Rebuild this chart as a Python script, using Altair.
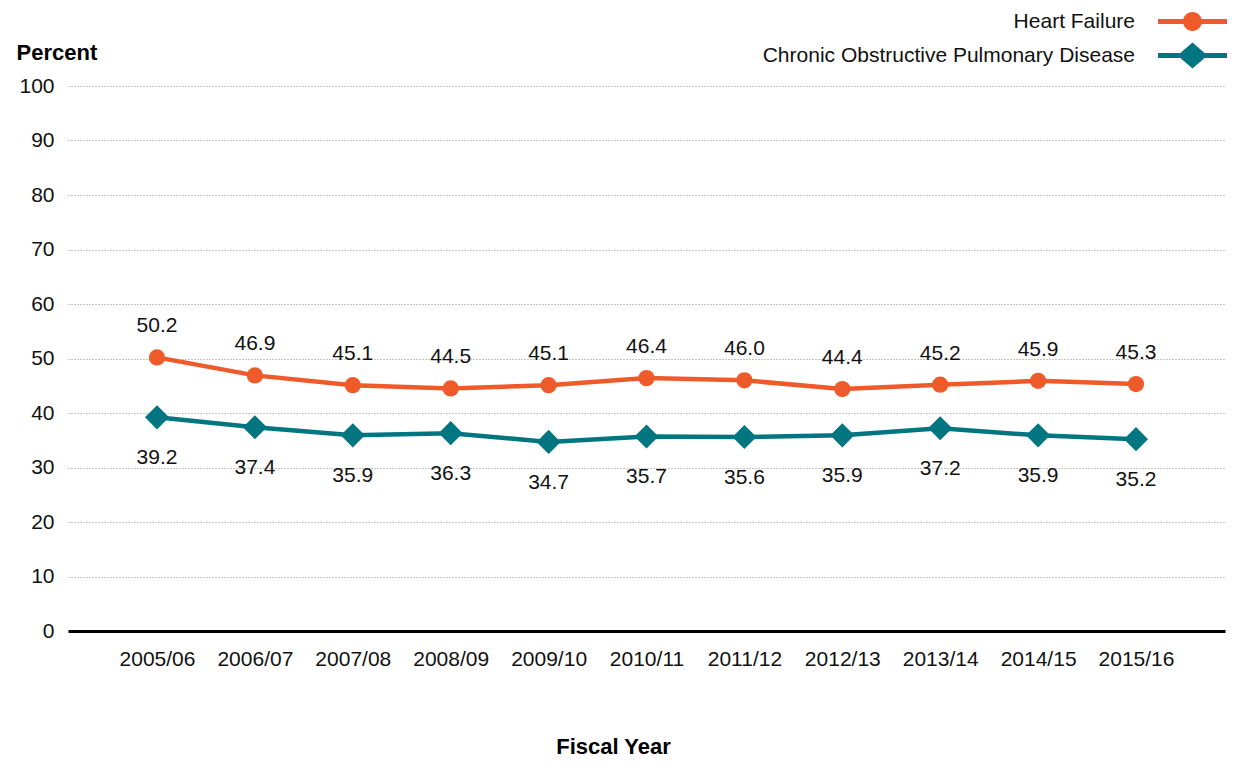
import altair as alt
import pandas as pd

years = ["2005/06", "2006/07", "2007/08", "2008/09", "2009/10", "2010/11",
         "2011/12", "2012/13", "2013/14", "2014/15", "2015/16"]
heart_failure = [50.2, 46.9, 45.1, 44.5, 45.1, 46.4, 46.0, 44.4, 45.2, 45.9, 45.3]
copd = [39.2, 37.4, 35.9, 36.3, 34.7, 35.7, 35.6, 35.9, 37.2, 35.9, 35.2]
y_ticks = [0, 10, 20, 30, 40, 50, 60, 70, 80, 90, 100]

HF = "Heart Failure"
CO = "Chronic Obstructive Pulmonary Disease"
ORANGE = "#EF5A2B"
TEAL = "#017681"
FONT = "Liberation Sans"

df_hf = pd.DataFrame({"year": years, "value": heart_failure, "series": HF})
df_co = pd.DataFrame({"year": years, "value": copd, "series": CO})

x_enc = alt.X(
    "year:N", sort=years,
    scale=alt.Scale(type="point", padding=0.909, align=0.5),
    axis=alt.Axis(
        title="Fiscal Year", titleFont=FONT, titleFontSize=22, titleFontWeight="bold",
        titleColor="#000", titleX=545, titleY=115, titleAlign="center",
        titleBaseline="middle", titleAnchor="start",
        labelFont=FONT, labelFontSize=21, labelColor="#111", labelAngle=0,
        labelPadding=17, ticks=False, domain=True, domainColor="#000",
        domainWidth=3, grid=False,
    ),
)
y_enc = alt.Y(
    "value:Q",
    scale=alt.Scale(domain=[0, 100], nice=False, zero=True),
    axis=alt.Axis(
        values=y_ticks, title="Percent", titleFont=FONT, titleFontSize=22,
        titleFontWeight="bold", titleColor="#000", titleAngle=0, titleAlign="left",
        titleBaseline="middle", titleX=-52, titleY=-34, titleAnchor="start",
        labelFont=FONT, labelFontSize=21, labelColor="#111", labelPadding=14,
        ticks=False, domain=False, grid=True, gridColor="#8a8a8a",
        gridDash=[1, 2], gridWidth=1,
    ),
)

PATH_HF = ("M-1,-0.072H1V0.072H-1Z"
           "M0.275,0A0.275,0.275,0,1,1,-0.275,0A0.275,0.275,0,1,1,0.275,0Z")
PATH_CO = ("M-1,-0.072H1V0.072H-1Z"
           "M0,-0.377L0.435,0L0,0.377L-0.435,0Z")


def legend(path, ly):
    return alt.Legend(
        title=None, orient="none", legendX=1090, legendY=ly,
        symbolType=path, symbolSize=4761, symbolStrokeWidth=0,
        symbolOpacity=1, labelAlign="right", labelOffset={"expr": "-92"},
        labelFont=FONT, labelFontSize=21, labelColor="#111",
        labelLimit=700, padding=0,
    )


line_hf = alt.Chart(df_hf).mark_line(color=ORANGE, strokeWidth=4.5).encode(x=x_enc, y=y_enc)
line_co = alt.Chart(df_co).mark_line(color=TEAL, strokeWidth=4.5).encode(x=x_enc, y=y_enc)

pts_hf = alt.Chart(df_hf).mark_circle(size=265, opacity=1).encode(
    x=x_enc, y=y_enc,
    color=alt.Color("series:N", scale=alt.Scale(domain=[HF], range=[ORANGE]),
                    legend=legend(PATH_HF, -99)),
)
pts_co = alt.Chart(df_co).mark_point(shape="diamond", filled=True, size=580, opacity=1).encode(
    x=x_enc, y=y_enc,
    color=alt.Color("series:N", scale=alt.Scale(domain=[CO], range=[TEAL]),
                    legend=legend(PATH_CO, -65)),
)

txt_hf = alt.Chart(df_hf).mark_text(dy=-31, font=FONT, fontSize=21, color="#111").encode(
    x=x_enc, y=y_enc, text=alt.Text("value:Q", format=".1f"))
txt_co = alt.Chart(df_co).mark_text(dy=41, font=FONT, fontSize=21, color="#111").encode(
    x=x_enc, y=y_enc, text=alt.Text("value:Q", format=".1f"))

chart = alt.layer(line_hf, line_co, pts_hf, pts_co, txt_hf, txt_co).resolve_scale(
    color="independent"
).properties(
    width=1157, height=545,
    autosize=alt.AutoSizeParams(type="none"),
    padding={"left": 60, "top": 78, "right": 2, "bottom": 128},
    background="white",
).configure_view(stroke=None)

chart.save("out.html", embed_options={"renderer": "svg", "actions": False})
